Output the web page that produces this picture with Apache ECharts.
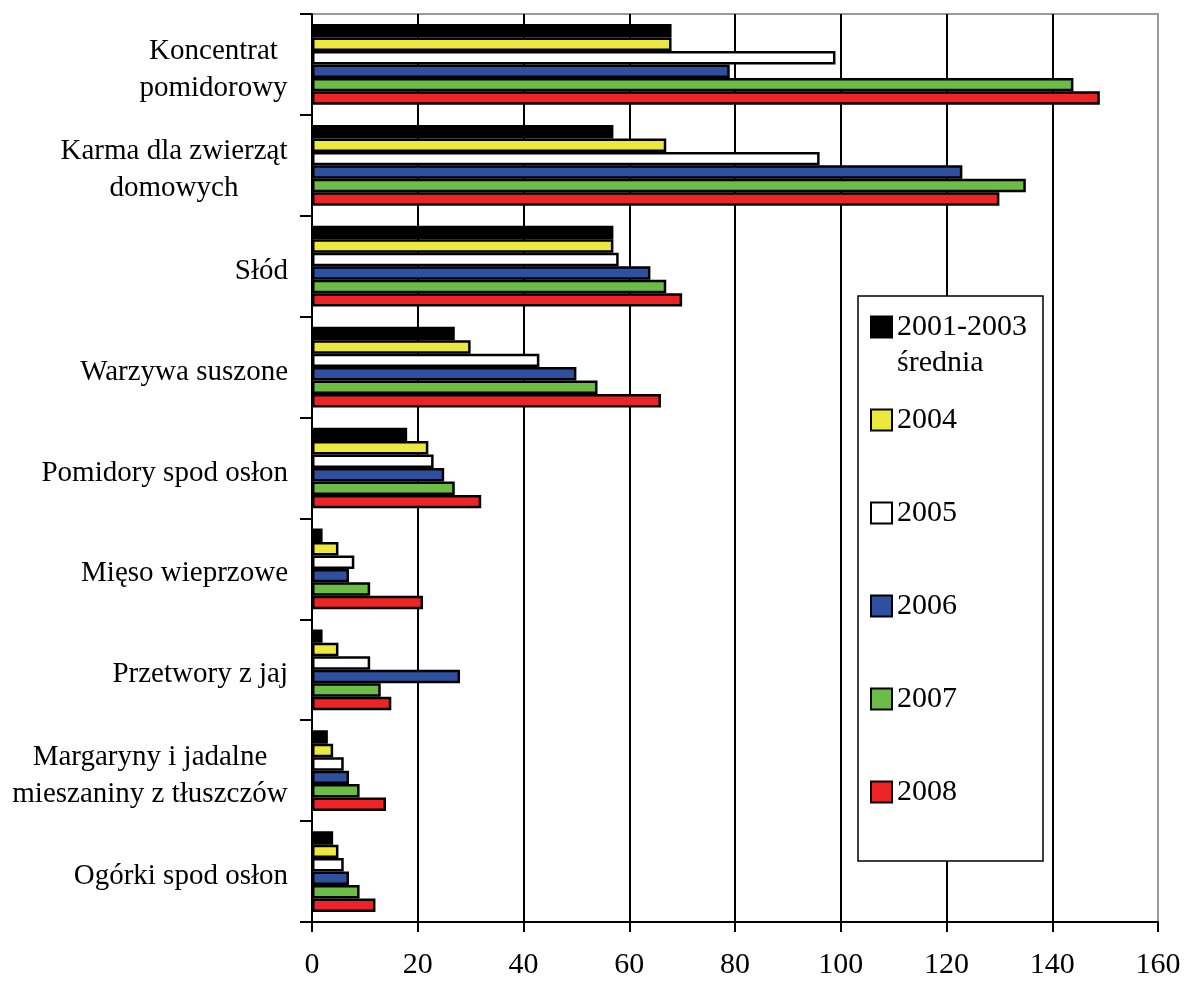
<!DOCTYPE html>
<html>
<head>
<meta charset="utf-8">
<script src="https://cdn.jsdelivr.net/npm/echarts@6/dist/echarts.min.js"></script>
<style>
  html, body { margin: 0; padding: 0; background: #fff; }
  #chart { width: 1184px; height: 981px; }
</style>
</head>
<body>
<div id="chart"></div>
<script>
const categories = [
    'Koncentrat\npomidorowy',
    'Karma dla zwierząt\ndomowych',
    'Słód',
    'Warzywa suszone',
    'Pomidory spod osłon',
    'Mięso wieprzowe',
    'Przetwory z jaj',
    'Margaryny i jadalne\nmieszaniny z tłuszczów',
    'Ogórki spod osłon',
];
const seriesNames = ['2001-2003\nśrednia', '2004', '2005', '2006', '2007', '2008'];
const colors = ['#000000', '#ede83d', '#ffffff', '#2f50a0', '#6cbd45', '#ee2325'];

const avg2001_2003 = [68, 57, 57, 27, 18, 2, 2, 3, 4];
const y2004 = [68, 67, 57, 30, 22, 5, 5, 4, 5];
const y2005 = [99, 96, 58, 43, 23, 8, 11, 6, 6];
const y2006 = [79, 123, 64, 50, 25, 7, 28, 7, 7];
const y2007 = [144, 135, 67, 54, 27, 11, 13, 9, 9];
const y2008 = [149, 130, 70, 66, 32, 21, 15, 14, 12];
const seriesValues = [avg2001_2003, y2004, y2005, y2006, y2007, y2008];

const xTicks = { min: 0, max: 160, interval: 20 };

const FONT = '"Liberation Serif", "Times New Roman", serif';
const LABEL_SIZE = 29;
const LABEL_LH = 37;

// centre the lines of multi-line category labels inside a right-aligned block
const measure = document.createElement('canvas').getContext('2d');
measure.font = `${LABEL_SIZE}px "Liberation Serif"`;
const rich = {};
categories.forEach((c, i) => {
    const lines = c.split('\n');
    if (lines.length > 1) {
        const w = Math.ceil(Math.max(...lines.map(l => measure.measureText(l).width)));
        rich['c' + i] = {
            width: w, align: 'center', fontSize: LABEL_SIZE,
            lineHeight: LABEL_LH, fontFamily: FONT, color: '#000',
        };
    }
});

const chart = echarts.init(document.getElementById('chart'));

// first legend entry: icon sits on the first line, second line hangs below it
const [legendFirst, legendSecond] = seriesNames[0].split('\n');

chart.setOption({
    animation: false,
    backgroundColor: '#fff',
    grid: {
        left: 312, right: 26, top: 14, bottom: 59,
        show: true, borderColor: '#9a9a9a', borderWidth: 2,
        backgroundColor: 'transparent',
    },
    legend: {
        orient: 'vertical',
        left: 858, top: 296,
        padding: [13, 16, 51, 12],
        itemWidth: 21, itemHeight: 21, itemGap: 57,
        backgroundColor: '#fff',
        borderColor: '#000', borderWidth: 1.5,
        textStyle: { fontFamily: FONT, fontSize: 30, color: '#000', lineHeight: 36 },
        itemStyle: { borderColor: '#000', borderWidth: 2 },
        icon: 'rect',
        formatter: name => name.split('\n')[0],
        data: seriesNames,
    },
    graphic: [{
        type: 'text',
        left: 897, top: 348,
        z: 100,
        style: { text: legendSecond, font: `30px ${FONT}`, fill: '#000' },
    }],
    xAxis: {
        type: 'value',
        min: xTicks.min, max: xTicks.max, interval: xTicks.interval,
        axisLine: { show: true, lineStyle: { color: '#000', width: 2 } },
        axisTick: { show: true, length: 10, lineStyle: { color: '#000', width: 2 } },
        axisLabel: { fontFamily: FONT, fontSize: 30, color: '#000', margin: 28 },
        splitLine: {
            show: true, showMinLine: false, showMaxLine: false,
            lineStyle: { color: '#000', width: 2 },
        },
    },
    yAxis: {
        type: 'category',
        inverse: true,
        data: categories,
        axisLine: { show: true, lineStyle: { color: '#000', width: 2 } },
        axisTick: { show: true, length: 12, lineStyle: { color: '#000', width: 2 } },
        axisLabel: {
            interval: 0, margin: 24, padding: [10, 0, 0, 0],
            fontFamily: FONT, fontSize: LABEL_SIZE, lineHeight: LABEL_LH, color: '#000',
            formatter: (value, index) => {
                const lines = value.split('\n');
                if (lines.length === 1) return value;
                return lines.map(l => `{c${index}|${l}}`).join('\n');
            },
            rich,
        },
    },
    series: seriesNames.map((name, i) => ({
        name,
        type: 'bar',
        data: seriesValues[i],
        barGap: '0%',
        barCategoryGap: '20%',
        itemStyle: { color: colors[i], borderColor: '#000', borderWidth: 2.5 },
    })),
});
</script>
</body>
</html>
